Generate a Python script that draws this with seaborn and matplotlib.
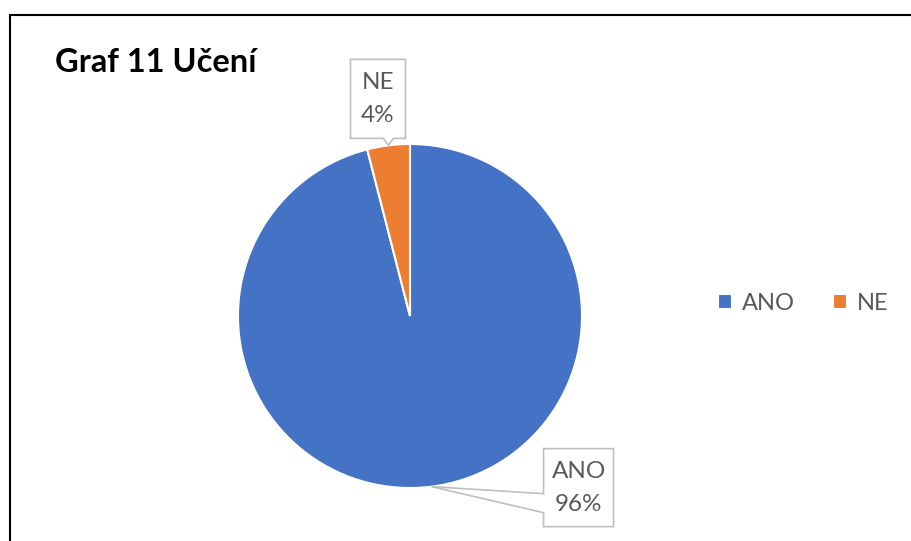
import numpy as np
import matplotlib
matplotlib.use("Agg")
import matplotlib.pyplot as plt
from matplotlib.patches import Polygon
from matplotlib.lines import Line2D
import seaborn as sns

# data
categories = ["ANO", "NE"]
shares = [96, 4]
pct_labels = ["96%", "4%"]
colors = ["#4472C4", "#ED7D31"]

sns.set_theme(style="white")
plt.rcParams["font.family"] = ["Lato", "DejaVu Sans"]

W, H = 912, 541
fig = plt.figure(figsize=(W / 100, H / 100), dpi=100)
fig.patch.set_facecolor("white")

# pie centre and radius in pixels
cx, cy, r = 410, 316, 172
ax = fig.add_axes([(cx - r) / W, 1 - (cy + r) / H, 2 * r / W, 2 * r / H])
wedges, _ = ax.pie(shares, colors=colors, startangle=90, counterclock=False,
                   wedgeprops=dict(edgecolor="white", linewidth=1.5))
ax.set_xlim(-1, 1)
ax.set_ylim(-1, 1)
ax.set_aspect("equal")
ax.axis("off")

grey_txt = "#595959"
grey_line = "#BFBFBF"


def to_data(anchor, pts):
    # pixel offsets (x right, y down) from anchor -> data units
    return [(anchor[0] + dx / r, anchor[1] - dy / r) for dx, dy in pts]


# callout boxes: (left, top, width, height) relative to wedge anchor, in px
callouts = {
    "ANO": (112, -38, 70, 78),
    "NE": (-38, -86, 55, 79),
}

for w, cat, pct in zip(wedges, categories, pct_labels):
    mid = np.deg2rad((w.theta1 + w.theta2) / 2)
    anchor = (np.cos(mid), np.sin(mid))
    left, top, bw, bh = callouts[cat]
    right, bottom = left + bw, top + bh
    if cat == "NE":
        pts = [(left, top), (right, top), (right, bottom), (5, bottom),
               (0, 0), (-5, bottom), (left, bottom)]
    else:
        pts = [(left, top), (right, top), (right, bottom), (left, bottom),
               (left, 26), (0, 0), (left, 7)]
    poly = Polygon(to_data(anchor, pts), closed=True, facecolor="white",
                   edgecolor=grey_line, linewidth=1.2, clip_on=False, zorder=5)
    ax.add_patch(poly)
    tx, ty = to_data(anchor, [((left + right) / 2, (top + bottom) / 2)])[0]
    ax.text(tx, ty, f"{cat}\n{pct}", ha="center", va="center", fontsize=17.5,
            color=grey_txt, linespacing=1.7, zorder=6)

leg = ax.legend(wedges, categories, ncol=2, loc="center left",
                bbox_to_anchor=(718 / W, 1 - 303 / H), bbox_transform=fig.transFigure,
                frameon=False, fontsize=17, handlelength=0.6, handleheight=0.6,
                handletextpad=0.42, columnspacing=1.6, borderpad=0, borderaxespad=0,
                labelcolor=grey_txt)

fig.text(55 / W, 1 - 62 / H, "Graf 11 Učení", fontsize=23.5, fontweight="bold",
         ha="left", va="center", color="black")

# chart frame (left and top edges visible)
fig.add_artist(Line2D([10 / W, 10 / W], [0, 1 - 15 / H], color="black", lw=1.5))
fig.add_artist(Line2D([10 / W, 1], [1 - 15 / H, 1 - 15 / H], color="black", lw=1.5))

fig.savefig("out.png", dpi=100)
